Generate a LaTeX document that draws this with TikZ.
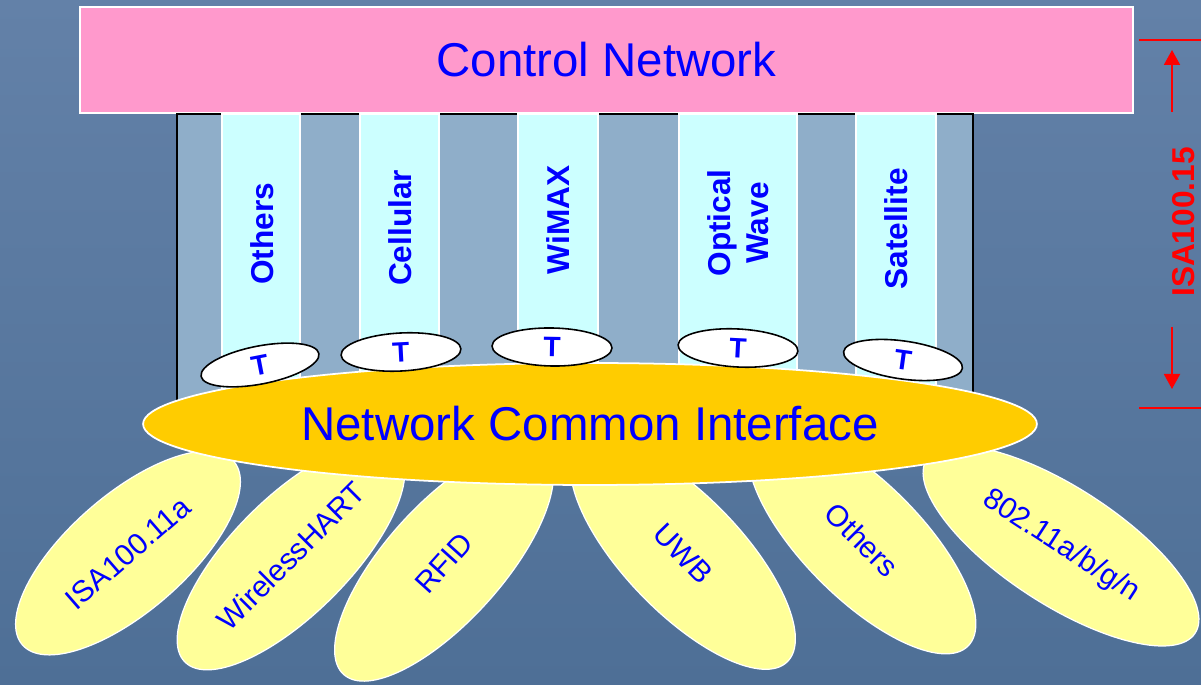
\documentclass[tikz,border=0pt]{standalone}
\usepackage{fontspec}
\setmainfont{Liberation Sans}
\usetikzlibrary{shapes.geometric,arrows.meta}
\definecolor{bgtop}{RGB}{99,129,168}
\definecolor{bgbot}{RGB}{78,111,150}
\definecolor{ctrlpink}{RGB}{255,153,204}
\definecolor{boxgray}{RGB}{143,174,201}
\definecolor{colcyan}{RGB}{204,255,255}
\definecolor{ncigold}{RGB}{255,204,0}
\definecolor{petalyellow}{RGB}{255,255,153}
\definecolor{txtblue}{RGB}{0,0,255}

\begin{document}
\begin{tikzpicture}[x=0.02cm,y=-0.02cm,
    column/.style={fill=colcyan,draw=white,line width=0.6pt},
    collabel/.style={rotate=90,text=txtblue,align=center,font=\fontsize{18}{21.6}\selectfont\bfseries},
    tnode/.style={ellipse,draw=black,fill=white,line width=0.9pt,minimum width=2.4cm,minimum height=0.76cm,inner sep=0pt,text=txtblue,font=\fontsize{16}{18}\selectfont\bfseries},
    petal/.style={ellipse,fill=petalyellow,draw=white,line width=0.7pt,minimum width=6cm,minimum height=2.34cm,inner ysep=0pt,inner xsep=-1.2cm,text=txtblue,font=\fontsize{17}{20}\selectfont},
    dim/.style={red,line width=1.1pt}]
\useasboundingbox (0,0) rectangle (1201,685);
\shade[top color=bgtop,bottom color=bgbot] (0,0) rectangle (1201,685); % slide background

% control network bar
\node[draw=white,fill=ctrlpink,line width=1pt,minimum width=21.06cm,minimum height=2.12cm,inner sep=0pt,
      text=txtblue,font=\fontsize{27}{32}\selectfont] (ctrl) at (606.5,60) {Control Network};

% backbone box and the five columns
\draw[fill=boxgray,draw=black,line width=0.8pt] (177,114) rectangle (973,440);
\draw[column] (222,114) rectangle (300,395);
\draw[column] (360,114) rectangle (439,395);
\draw[column] (518,114) rectangle (598,395);
\draw[column] (679,114) rectangle (797,395);
\draw[column] (856,114) rectangle (936,395);
\node[collabel] (others) at (262,234) {Others};
\node[collabel] (cellular) at (400,228) {Cellular};
\node[collabel] (wimax) at (558,220) {WiMAX};
\node[collabel] (optical) at (738,223) {Optical\\Wave};
\node[collabel] (satellite) at (896,229) {Satellite};

% lower networks
\node[petal,rotate=41,minimum width=5.6cm] (isa) at (128,553) {ISA100.11a};
\node[petal,rotate=45] (whart) at (291,556) {WirelessHART};
\node[petal,rotate=48] (rfid) at (444,563) {RFID};
\node[petal,rotate=-46] (uwb) at (683,554) {UWB};
\node[petal,rotate=-45] (othersb) at (862,540) {Others};
\node[petal,rotate=-33,minimum width=6.4cm] (wifi) at (1061,546) {802.11a/b/g/n};

% common interface
\node[ellipse,fill=ncigold,draw=white,line width=1pt,minimum width=17.88cm,minimum height=2.44cm,inner sep=0pt,
      text=txtblue,font=\fontsize{27}{32}\selectfont] (nci) at (590,424) {Network Common Interface};

% translators
\node[tnode,rotate=11] (t1) at (260,365) {T};
\node[tnode,rotate=3] (t2) at (401,352) {T};
\node[tnode,rotate=-1] (t3) at (552,347) {T};
\node[tnode,rotate=-3] (t4) at (738,348) {T};
\node[tnode,rotate=-8] (t5) at (903,360) {T};

% ISA100.15 span
\coordinate (dimA1) at (1139,40);
\coordinate (dimA2) at (1201,40);
\coordinate (dimB1) at (1139,408);
\coordinate (dimB2) at (1201,408);
\coordinate (upfrom) at (1172,112);
\coordinate (upto) at (1172,50);
\coordinate (dnfrom) at (1172,327);
\coordinate (dnto) at (1172,389);
\draw[dim] (dimA1) -- (dimA2);
\draw[dim] (dimB1) -- (dimB2);
\draw[dim,-{Triangle[length=0.3cm,width=0.32cm]}] (upfrom) -- (upto);
\draw[dim,-{Triangle[length=0.3cm,width=0.32cm]}] (dnfrom) -- (dnto);
\node[rotate=90,text=red,font=\fontsize{18}{21.6}\selectfont\bfseries] (isa15) at (1184,222) {ISA100.15};
\end{tikzpicture}
\end{document}
